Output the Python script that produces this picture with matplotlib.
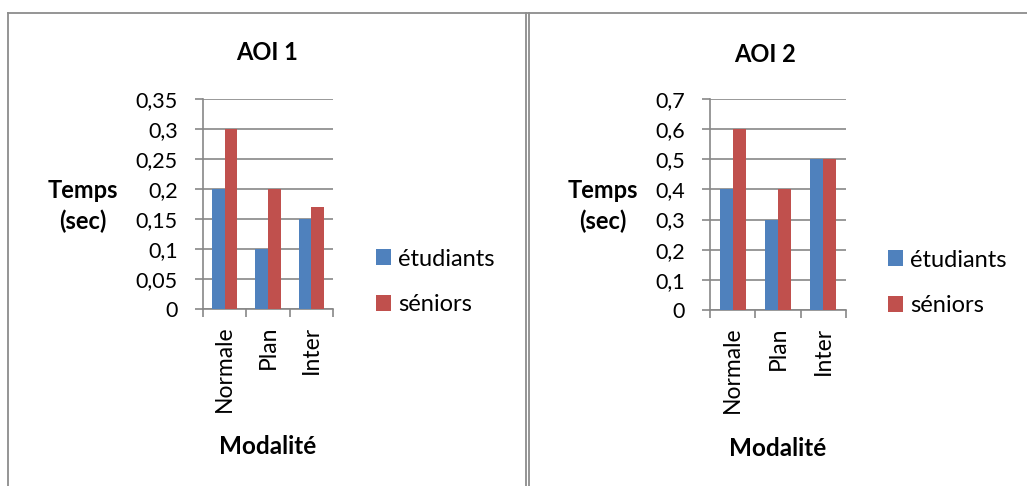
import numpy as np
import matplotlib.pyplot as plt
from matplotlib.lines import Line2D

plt.rcParams['font.family'] = ['Lato', 'DejaVu Sans']

categories = ['Normale', 'Plan', 'Inter']
series_names = ['étudiants', 'séniors']
aoi1_etudiants = [0.2, 0.1, 0.15]
aoi1_seniors = [0.3, 0.2, 0.17]
aoi2_etudiants = [0.4, 0.3, 0.5]
aoi2_seniors = [0.6, 0.4, 0.5]
aoi1_ticks = [0, 0.05, 0.1, 0.15, 0.2, 0.25, 0.3, 0.35]
aoi1_ticklabels = ['0', '0,05', '0,1', '0,15', '0,2', '0,25', '0,3', '0,35']
aoi2_ticks = [0, 0.1, 0.2, 0.3, 0.4, 0.5, 0.6, 0.7]
aoi2_ticklabels = ['0', '0,1', '0,2', '0,3', '0,4', '0,5', '0,6', '0,7']

BLUE = '#4F81BD'
RED = '#C0504D'
GRID = '#878787'
W, H = 1027, 486

fig = plt.figure(figsize=(W / 100, H / 100), dpi=100)


def fx(px):
    return px / W


def fy(py):
    return 1 - py / H


def panel(rect, title, vals1, vals2, ticks, ticklabels, title_pos, ylab_x, xlab_pos, leg_pos):
    ax = fig.add_axes(rect)
    x = np.arange(len(categories))
    bw = 0.29
    ax.bar(x - bw / 2, vals1, bw, color=BLUE, label=series_names[0], zorder=3)
    ax.bar(x + bw / 2, vals2, bw, color=RED, label=series_names[1], zorder=3)
    ax.set_xlim(-0.5, len(categories) - 0.5)
    ax.set_ylim(0, ticks[-1])
    ax.set_yticks(ticks)
    ax.set_yticklabels(ticklabels)
    ax.yaxis.grid(True, color=GRID, linewidth=1.2, zorder=0)
    ax.set_xticks(np.arange(len(categories) + 1) - 0.5)
    ax.set_xticklabels([])
    ax.set_xticks(x, minor=True)
    ax.set_xticklabels(categories, minor=True, rotation=90, fontsize=16.5)
    ax.tick_params(axis='x', which='major', length=6, width=1.2, color=GRID)
    ax.tick_params(axis='x', which='minor', length=0, pad=12)
    ax.tick_params(axis='y', length=6, width=1.2, color=GRID, pad=12, labelsize=15.5)
    for s in ['top', 'right']:
        ax.spines[s].set_visible(False)
    for s in ['left', 'bottom']:
        ax.spines[s].set_color(GRID)
        ax.spines[s].set_linewidth(1.2)
    fig.text(fx(title_pos[0]), fy(title_pos[1]), title, fontsize=17, fontweight='bold',
             ha='center', va='center')
    fig.text(fx(ylab_x), fy(190), 'Temps', fontsize=17, fontweight='bold', ha='center', va='center')
    fig.text(fx(ylab_x), fy(221), '(sec)', fontsize=17, fontweight='bold', ha='center', va='center')
    fig.text(fx(xlab_pos[0]), fy(xlab_pos[1]), 'Modalité', fontsize=17.5, fontweight='bold',
             ha='center', va='center')
    ax.legend(loc='center left', bbox_to_anchor=(fx(leg_pos[0]), fy(leg_pos[1])),
              bbox_transform=fig.transFigure, frameon=False, fontsize=17,
              borderpad=0, borderaxespad=0, handlelength=0.65, handleheight=0.65,
              handletextpad=0.3, labelspacing=1.05)
    return ax


panel([fx(203), fy(309), fx(130), 210 / H], 'AOI 1', aoi1_etudiants, aoi1_seniors,
      aoi1_ticks, aoi1_ticklabels, (267, 52), 83, (268, 446), (376, 282))
panel([fx(710), fy(310), fx(136), 211 / H], 'AOI 2', aoi2_etudiants, aoi2_seniors,
      aoi2_ticks, aoi2_ticklabels, (765, 54), 603, (778, 448), (888, 283))

# panel borders
border = dict(color='#8c8c8c', linewidth=1.3, transform=fig.transFigure)
fig.add_artist(Line2D([fx(8), fx(1027)], [fy(13.5), fy(13.5)], **border))
fig.add_artist(Line2D([fx(8), fx(8)], [fy(13.5), fy(486)], **border))
fig.add_artist(Line2D([fx(525.5), fx(525.5)], [fy(13.5), fy(486)], **border))
fig.add_artist(Line2D([fx(529), fx(529)], [fy(13.5), fy(486)], **border))

fig.savefig('out.png', dpi=100)
